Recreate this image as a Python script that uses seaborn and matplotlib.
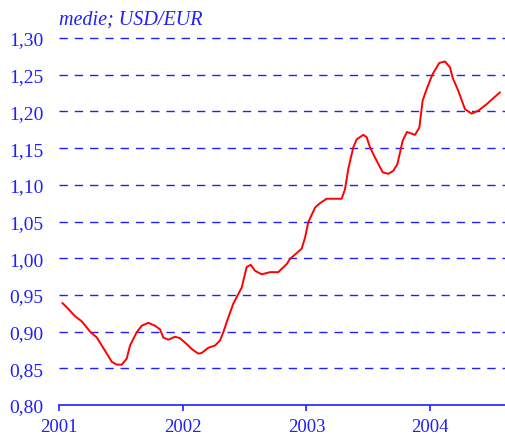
import matplotlib
matplotlib.use("Agg")
import matplotlib.pyplot as plt
import seaborn as sns
import pandas as pd
from matplotlib.ticker import FuncFormatter

# decimal year of observation
years = [2001.027, 2001.075, 2001.129, 2001.184, 2001.251, 2001.305, 2001.372, 2001.426,
         2001.466, 2001.507, 2001.547, 2001.574, 2001.628, 2001.669, 2001.722, 2001.776,
         2001.817, 2001.843, 2001.884, 2001.938, 2001.978, 2002.032, 2002.075, 2002.126,
         2002.154, 2002.207, 2002.261, 2002.302, 2002.328, 2002.366, 2002.409, 2002.477,
         2002.517, 2002.550, 2002.584, 2002.639, 2002.706, 2002.773, 2002.841, 2002.867,
         2002.935, 2002.962, 2002.989, 2003.015, 2003.070, 2003.110, 2003.164, 2003.285,
         2003.312, 2003.339, 2003.379, 2003.407, 2003.460, 2003.487, 2003.514, 2003.555,
         2003.595, 2003.617, 2003.662, 2003.702, 2003.735, 2003.757, 2003.778, 2003.813,
         2003.878, 2003.913, 2003.940, 2003.967, 2003.999, 2004.021, 2004.074, 2004.120,
         2004.161, 2004.182, 2004.228, 2004.282, 2004.336, 2004.390, 2004.458, 2004.565]
usd_eur = [0.939, 0.931, 0.921, 0.914, 0.900, 0.892, 0.874, 0.859,
           0.855, 0.855, 0.863, 0.881, 0.899, 0.908, 0.912, 0.908,
           0.903, 0.892, 0.889, 0.893, 0.891, 0.883, 0.876, 0.870,
           0.871, 0.878, 0.881, 0.888, 0.899, 0.918, 0.938, 0.960,
           0.988, 0.991, 0.983, 0.978, 0.981, 0.981, 0.992, 0.999,
           1.009, 1.013, 1.028, 1.049, 1.069, 1.075, 1.081, 1.081,
           1.094, 1.122, 1.151, 1.162, 1.168, 1.165, 1.151, 1.137,
           1.124, 1.117, 1.115, 1.119, 1.128, 1.144, 1.160, 1.172,
           1.168, 1.178, 1.215, 1.228, 1.242, 1.251, 1.266, 1.268,
           1.260, 1.246, 1.228, 1.203, 1.197, 1.201, 1.210, 1.226]

y_ticks = [0.80, 0.85, 0.90, 0.95, 1.00, 1.05, 1.10, 1.15, 1.20, 1.25, 1.30]
x_ticks = [2001, 2002, 2003, 2004]
title = "medie; USD/EUR"

sns.set_style("white")
plt.rcParams["font.family"] = ["Liberation Serif", "DejaVu Serif"]

BLUE = "#1f1fff"
fig = plt.figure(figsize=(5.06, 4.39), dpi=100)
ax = fig.add_axes([59 / 506, 33 / 439, 447 / 506, 367 / 439])

df = pd.DataFrame({"year": years, "value": usd_eur})
sns.lineplot(data=df, x="year", y="value", ax=ax, color="#ff0000", linewidth=1.4)

ax.set_xlim(2001, 2001 + 447 / 123.7)
ax.set_ylim(0.80, 1.30)

for v in y_ticks[1:]:
    ax.axhline(v, color=BLUE, linewidth=1.0, linestyle=(0, (6, 5)), clip_on=False, zorder=0)

for s in ["left", "right", "top"]:
    ax.spines[s].set_visible(False)
ax.spines["bottom"].set_color(BLUE)
ax.spines["bottom"].set_linewidth(1.2)

ax.set_yticks(y_ticks)
ax.yaxis.set_major_formatter(FuncFormatter(lambda v, p: f"{v:.2f}".replace(".", ",")))
ax.set_xticks(x_ticks)
ax.set_xticklabels([str(t) for t in x_ticks])
ax.tick_params(axis="y", length=0, pad=11, labelsize=14, labelcolor=BLUE)
ax.tick_params(axis="x", length=4.5, width=1.2, color=BLUE, direction="out", pad=5,
               labelsize=13.5, labelcolor=BLUE, bottom=True)
ax.set_xlabel("")
ax.set_ylabel("")

fig.text(59 / 506, 1 - 20 / 439, title, color=BLUE, fontsize=14.5, style="italic",
         ha="left", va="center")

fig.savefig("out.png", dpi=100)
